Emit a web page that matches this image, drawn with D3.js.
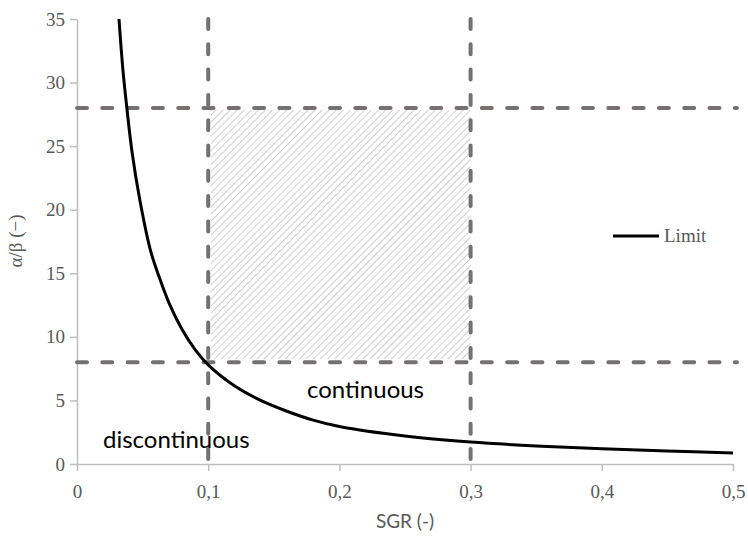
<!DOCTYPE html>
<html>
<head>
<meta charset="utf-8">
<script src="https://cdn.jsdelivr.net/npm/d3@7"></script>
<style>
  body { margin: 0; background: #fff; }
  svg { display: block; }
</style>
</head>
<body>
<svg width="748" height="537"></svg>
<script>
// curve "Limit"
const limitX = [0.032, 0.035, 0.038, 0.042, 0.048, 0.056, 0.063, 0.07, 0.08, 0.09, 0.1,
                0.12, 0.14, 0.16, 0.18, 0.2, 0.25, 0.3, 0.35, 0.4, 0.45, 0.5];
const limitY = [35, 31, 28, 24.5, 20.7, 16.8, 14.6, 12.7, 10.6, 9.0, 7.8,
                6.15, 5.0, 4.15, 3.45, 2.95, 2.2, 1.73, 1.42, 1.2, 1.02, 0.87];

// dashed limits and hatched window
const vLines = [0.1, 0.3];
const hLines = [8, 28];
const hatchX = [0.102, 0.3];
const hatchY = [8.25, 27.85];

const xTicks = [0, 0.1, 0.2, 0.3, 0.4, 0.5];
const yTicks = [0, 5, 10, 15, 20, 25, 30, 35];

const svg = d3.select("svg");
const x = d3.scaleLinear().domain([0, 0.5]).range([77, 733]);
const y = d3.scaleLinear().domain([0, 35]).range([464, 19]);

const grey = "#595959";
const dashCol = "#767171";
const serif = "Liberation Serif, Times New Roman, serif";
const sans = "Lato, Open Sans, sans-serif";

// hatch pattern
const pat = svg.append("defs").append("pattern")
  .attr("id", "hatch")
  .attr("patternUnits", "userSpaceOnUse")
  .attr("width", 5).attr("height", 5)
  .attr("patternTransform", "rotate(45)");
pat.append("line")
  .attr("x1", 0).attr("y1", 0).attr("x2", 0).attr("y2", 5)
  .attr("stroke", "#c4c4c4").attr("stroke-width", 1.6);

svg.append("rect")
  .attr("x", x(hatchX[0])).attr("y", y(hatchY[1]))
  .attr("width", x(hatchX[1]) - x(hatchX[0]))
  .attr("height", y(hatchY[0]) - y(hatchY[1]))
  .attr("fill", "url(#hatch)");

// axes
const xAxis = svg.append("g")
  .attr("transform", `translate(0,${y(0)})`)
  .call(d3.axisBottom(x).tickValues(xTicks).tickSize(7).tickSizeOuter(0)
    .tickFormat(d => d === 0 ? "0" : d3.format(".1f")(d).replace(".", ",")));
const yAxis = svg.append("g")
  .attr("transform", `translate(${x(0)},0)`)
  .call(d3.axisLeft(y).tickValues(yTicks).tickSize(7).tickSizeOuter(0));

[xAxis, yAxis].forEach(g => {
  g.attr("font-family", serif).attr("font-size", 19);
  g.select(".domain").attr("stroke", "#bfbfbf").attr("stroke-width", 1.5);
  g.selectAll(".tick line").attr("stroke", "#bfbfbf").attr("stroke-width", 1.5);
  g.selectAll(".tick text").attr("fill", grey);
});
xAxis.selectAll(".tick text").attr("dy", "1.25em");
yAxis.selectAll(".tick text").attr("x", -12);

// dashed lines
svg.append("g").selectAll("line").data(hLines).join("line")
  .attr("x1", x(0)).attr("x2", x(0.5) + 4)
  .attr("y1", d => y(d)).attr("y2", d => y(d))
  .attr("stroke", dashCol).attr("stroke-width", 4)
  .attr("stroke-dasharray", "10,15.3").attr("stroke-linecap", "round");
svg.append("g").selectAll("line").data(vLines).join("line")
  .attr("x1", d => x(d)).attr("x2", d => x(d))
  .attr("y1", y(35)).attr("y2", y(0))
  .attr("stroke", dashCol).attr("stroke-width", 4)
  .attr("stroke-dasharray", "10,15.3").attr("stroke-linecap", "round");

// limit curve
const pts = limitX.map((d, i) => [d, limitY[i]]);
svg.append("path")
  .datum(pts)
  .attr("fill", "none")
  .attr("stroke", "#000")
  .attr("stroke-width", 3)
  .attr("d", d3.line().x(d => x(d[0])).y(d => y(d[1])).curve(d3.curveCatmullRom.alpha(0.5)));

// region labels
svg.append("text").attr("x", 103).attr("y", 448)
  .attr("font-family", sans).attr("font-size", 24)
  .attr("fill", "#000").text("discontinuous");
svg.append("text").attr("x", 307).attr("y", 398)
  .attr("font-family", sans).attr("font-size", 24)
  .attr("fill", "#000").text("continuous");

// axis titles
svg.append("text").attr("x", 405).attr("y", 528).attr("text-anchor", "middle")
  .attr("font-family", sans).attr("font-size", 19)
  .attr("fill", grey).text("SGR (-)");
svg.append("text")
  .attr("transform", "translate(22,241) rotate(-90)")
  .attr("text-anchor", "middle")
  .attr("font-family", serif).attr("font-size", 19)
  .attr("fill", grey).text("α/β (−)");

// legend
svg.append("line").attr("x1", 613).attr("x2", 659).attr("y1", 236).attr("y2", 236)
  .attr("stroke", "#000").attr("stroke-width", 3);
svg.append("text").attr("x", 664).attr("y", 242)
  .attr("font-family", serif).attr("font-size", 19)
  .attr("fill", grey).text("Limit");
</script>
</body>
</html>
